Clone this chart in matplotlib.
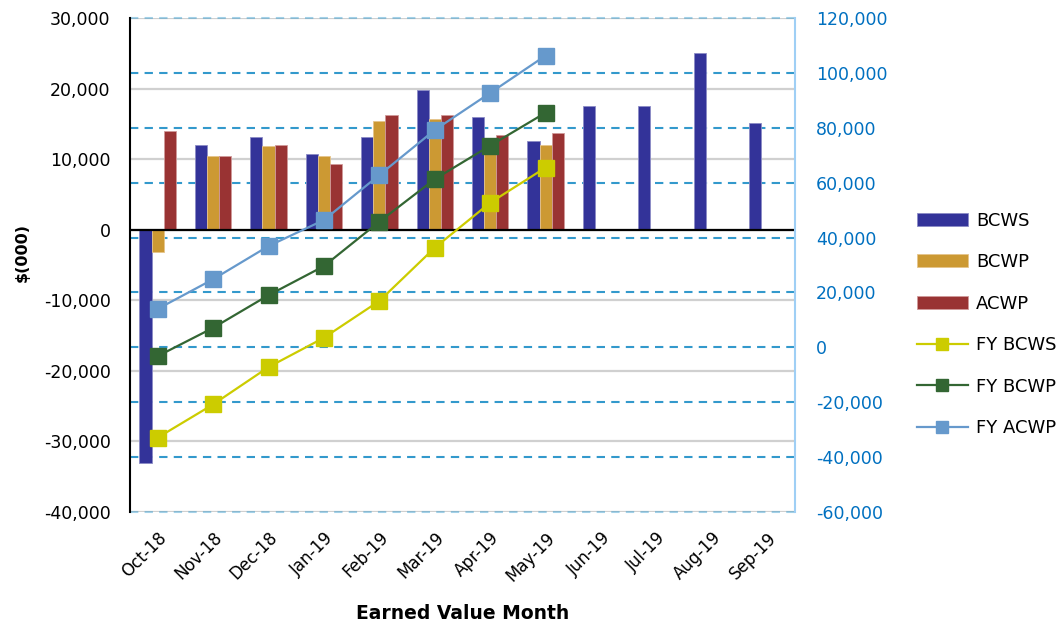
import matplotlib
matplotlib.use("Agg")
import matplotlib.pyplot as plt
import numpy as np
from matplotlib.ticker import FuncFormatter, MultipleLocator
from matplotlib.transforms import blended_transform_factory

months = ["Oct-18", "Nov-18", "Dec-18", "Jan-19", "Feb-19", "Mar-19",
          "Apr-19", "May-19", "Jun-19", "Jul-19", "Aug-19", "Sep-19"]

bcws = [-33000, 12000, 13200, 10700, 13200, 19800, 16000, 12600, 17600, 17600, 25100, 15100]
bcwp = [-3200, 10400, 11800, 10400, 15400, 15700, 11800, 12000, np.nan, np.nan, np.nan, np.nan]
acwp = [14000, 10400, 12000, 9300, 16250, 16250, 13450, 13750, np.nan, np.nan, np.nan, np.nan]

fy_bcws = [-32900, -20800, -7200, 3500, 16900, 36300, 52700, 65500]
fy_bcwp = [-3200, 7100, 19000, 29600, 45800, 61300, 73500, 85500]
fy_acwp = [14000, 24800, 36900, 46400, 62800, 79200, 92700, 106300]

plt.rcParams['font.family'] = ['DejaVu Sans']

fig = plt.figure(figsize=(10.62, 6.28), dpi=100)
ax = fig.add_axes([130/1062, 1-512/628, (795-130)/1062, (512-18)/628])
ax2 = ax.twinx()

x = np.arange(len(months))
w = 0.22
c_bcws, c_bcwp, c_acwp = "#333399", "#CC9933", "#993333"
ax.bar(x - w, bcws, w, color=c_bcws, edgecolor="#8c8cc6", linewidth=0.6, zorder=2, label="BCWS")
ax.bar(x, bcwp, w, color=c_bcwp, edgecolor="#e6c48c", linewidth=0.6, zorder=2, label="BCWP")
ax.bar(x + w, acwp, w, color=c_acwp, edgecolor="#d09a9a", linewidth=0.6, zorder=2, label="ACWP")

ax.set_xlim(-0.5, len(months) - 0.5)
ax.set_ylim(-40000, 30000)
ax2.set_ylim(-60000, 120000)
ax.yaxis.set_major_locator(MultipleLocator(10000))
ax2.yaxis.set_major_locator(MultipleLocator(20000))
fmt = FuncFormatter(lambda v, p: f"{int(round(v)):,}")
ax.yaxis.set_major_formatter(fmt)
ax2.yaxis.set_major_formatter(fmt)

# left gridlines (solid gray)
for v in np.arange(-40000, 30001, 10000):
    ax.axhline(v, color="#d0d0d0", lw=1.6, zorder=0.5)
# right gridlines (dashed blue), drawn on the bar axes so they stay behind bars
tr = blended_transform_factory(ax.transAxes, ax2.transData)
for v in np.arange(-60000, 120001, 20000):
    a = 0.45 if v in (-60000, 120000) else 1.0
    ax.plot([0, 1], [v, v], transform=tr, color="#3399cc", lw=1.5,
            ls=(0, (4, 3)), alpha=a, zorder=0.6, clip_on=False)
ax.axhline(0, color="black", lw=1.6, zorder=3)

xs = x[:len(fy_bcws)]
ax2.plot(xs, fy_bcws, color="#cccc00", lw=1.6, marker="s", ms=11.5, mec="#cccc00", label="FY BCWS")
ax2.plot(xs, fy_bcwp, color="#336633", lw=1.6, marker="s", ms=11.5, mec="#336633", label="FY BCWP")
ax2.plot(xs, fy_acwp, color="#6699cc", lw=1.6, marker="s", ms=11.5, mec="#6699cc", label="FY ACWP")

for a_ in (ax, ax2):
    for s in ("top", "bottom"):
        a_.spines[s].set_visible(False)
ax.spines["left"].set_color("black")
ax.spines["left"].set_linewidth(1.5)
ax.spines["right"].set_visible(False)
ax2.spines["left"].set_visible(False)
ax2.spines["right"].set_color("#9fcff5")
ax2.spines["right"].set_linewidth(1.5)

ax.set_xticks(x)
ax.set_xticklabels(months, rotation=45, ha="right", rotation_mode="anchor", fontsize=12)
ax.tick_params(axis="x", length=0, pad=12)
ax.tick_params(axis="y", length=0, pad=14, labelsize=12.5, labelcolor="black")
ax2.tick_params(axis="y", length=0, pad=15, labelsize=12.5, labelcolor="#0070c0")

ax.set_ylabel("$(000)", fontsize=11.5, fontweight="bold")
ax.yaxis.set_label_coords(-100/665, (512-253)/494)
ax.set_xlabel("Earned Value Month", fontsize=13.5, fontweight="bold", labelpad=14)

h1, l1 = ax.get_legend_handles_labels()
h2, l2 = ax2.get_legend_handles_labels()
fig.legend(h1 + h2, l1 + l2, loc="upper left", bbox_to_anchor=(0.863, 0.663),
           frameon=False, fontsize=13, handlelength=2.85, handletextpad=0.45,
           labelspacing=1.3, borderpad=0, borderaxespad=0, markerscale=0.75)

fig.savefig("out.png", dpi=100)
